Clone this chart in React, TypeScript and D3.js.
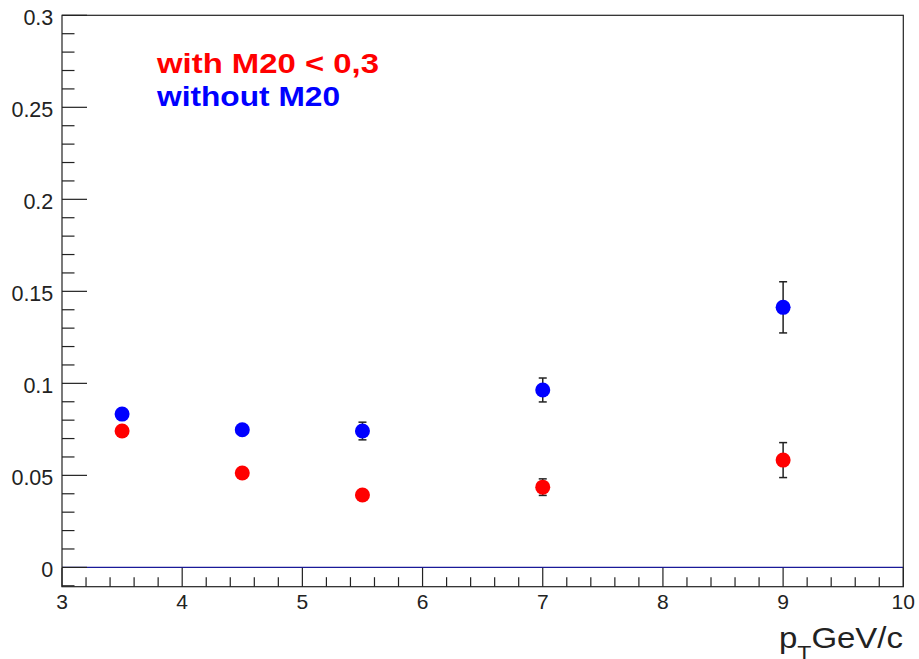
import React from "react";
import * as d3 from "d3";

const ptBins = [3.5, 4.5, 5.5, 7, 9];
const withM20 = [0.0741, 0.0513, 0.0393, 0.0436, 0.0583];
const withM20Err = [0.002, 0.002, 0.002, 0.0045, 0.0095];
const withoutM20 = [0.0833, 0.0748, 0.0741, 0.0964, 0.1413];
const withoutM20Err = [0.002, 0.002, 0.0048, 0.0065, 0.0139];
const xDomain = [3, 10];
const yDomain = [-0.0105, 0.3];
const legendLabels = ["with M20 < 0,3", "without M20"];

const W = 919;
const H = 659;
const L = 62;
const R = 903.3;
const T = 15.3;
const B = 586.7;

export default function App() {
  const x = d3.scaleLinear().domain(xDomain).range([L, R]);
  const y = d3.scaleLinear().domain(yDomain).range([B, T]);
  const xMajor = d3.range(3, 10.001, 1);
  const xMinor = d3.range(3, 10.001, 0.2).filter((v) => Math.abs(v - Math.round(v)) > 1e-6);
  const yMajor = d3.range(0, 0.3001, 0.05);
  const yMinor = d3.range(-0.01, 0.3001, 0.01).filter((v) => Math.abs(v / 0.05 - Math.round(v / 0.05)) > 1e-6);
  const font = "'Liberation Sans', Arial, Helvetica, sans-serif";
  const tickColor = "#222";

  const series = [
    { vals: withM20, errs: withM20Err, color: "#ff0000" },
    { vals: withoutM20, errs: withoutM20Err, color: "#0000ff" },
  ];

  const fmt = (v: number) => {
    const r = Math.round(v * 1000) / 1000;
    return r === 0 ? "0" : String(r);
  };

  return (
    <svg width={W} height={H} style={{ position: "absolute", left: 0, top: 0, background: "#fff" }} fontFamily={font}>
      <rect x={0} y={0} width={W} height={H} fill="#fff" />
      {/* zero line */}
      <line x1={L} x2={R} y1={y(0)} y2={y(0)} stroke="#1a1a99" strokeWidth={1.2} />
      {/* frame */}
      <rect x={L} y={T} width={R - L} height={B - T} fill="none" stroke={tickColor} strokeWidth={1.2} />
      {/* x ticks */}
      {xMajor.map((v) => (
        <line key={"xM" + v} x1={x(v)} x2={x(v)} y1={B} y2={B - 19} stroke={tickColor} strokeWidth={1.2} />
      ))}
      {xMinor.map((v) => (
        <line key={"xm" + v} x1={x(v)} x2={x(v)} y1={B} y2={B - 9.5} stroke={tickColor} strokeWidth={1.2} />
      ))}
      {xMajor.map((v) => (
        <text key={"xl" + v} x={x(v)} y={609.3} textAnchor="middle" fontSize={21} fill={tickColor}>
          {String(v)}
        </text>
      ))}
      {/* y ticks */}
      {yMajor.map((v) => (
        <line key={"yM" + v} x1={L} x2={L + 25} y1={y(v)} y2={y(v)} stroke={tickColor} strokeWidth={1.2} />
      ))}
      {yMinor.map((v) => (
        <line key={"ym" + v} x1={L} x2={L + 12.5} y1={y(v)} y2={y(v)} stroke={tickColor} strokeWidth={1.2} />
      ))}
      {yMajor.map((v) => (
        <text key={"yl" + v} x={53.3} y={y(v) + 9.3} textAnchor="end" fontSize={21.5} fill={tickColor}>
          {fmt(v)}
        </text>
      ))}
      {/* axis title */}
      <text x={779} y={648} fontSize={30} fill={tickColor} textLength={124} lengthAdjust="spacingAndGlyphs">
        p<tspan fontSize={21} dy={12}>T</tspan>
        <tspan dy={-12}>GeV/c</tspan>
      </text>
      {/* error bars */}
      {series.map((s, si) =>
        ptBins.map((p, i) => {
          const cx = x(p);
          const y1 = y(s.vals[i] + s.errs[i]);
          const y2 = y(s.vals[i] - s.errs[i]);
          return (
            <g key={"e" + si + "-" + i} stroke="#222" strokeWidth={1.5}>
              <line x1={cx} x2={cx} y1={y1} y2={y2} />
              <line x1={cx - 4} x2={cx + 4} y1={y1} y2={y1} />
              <line x1={cx - 4} x2={cx + 4} y1={y2} y2={y2} />
            </g>
          );
        })
      )}
      {/* markers */}
      {series.map((s, si) =>
        ptBins.map((p, i) => (
          <circle key={"m" + si + "-" + i} cx={x(p)} cy={y(s.vals[i])} r={7.5} fill={s.color} />
        ))
      )}
      {/* legend */}
      <text x={157} y={73} fontSize={28.5} fontWeight="bold" fill="#ff0000" textLength={222} lengthAdjust="spacingAndGlyphs">
        {legendLabels[0]}
      </text>
      <text x={157} y={106} fontSize={28.5} fontWeight="bold" fill="#0000ff" textLength={183} lengthAdjust="spacingAndGlyphs">
        {legendLabels[1]}
      </text>
    </svg>
  );
}
